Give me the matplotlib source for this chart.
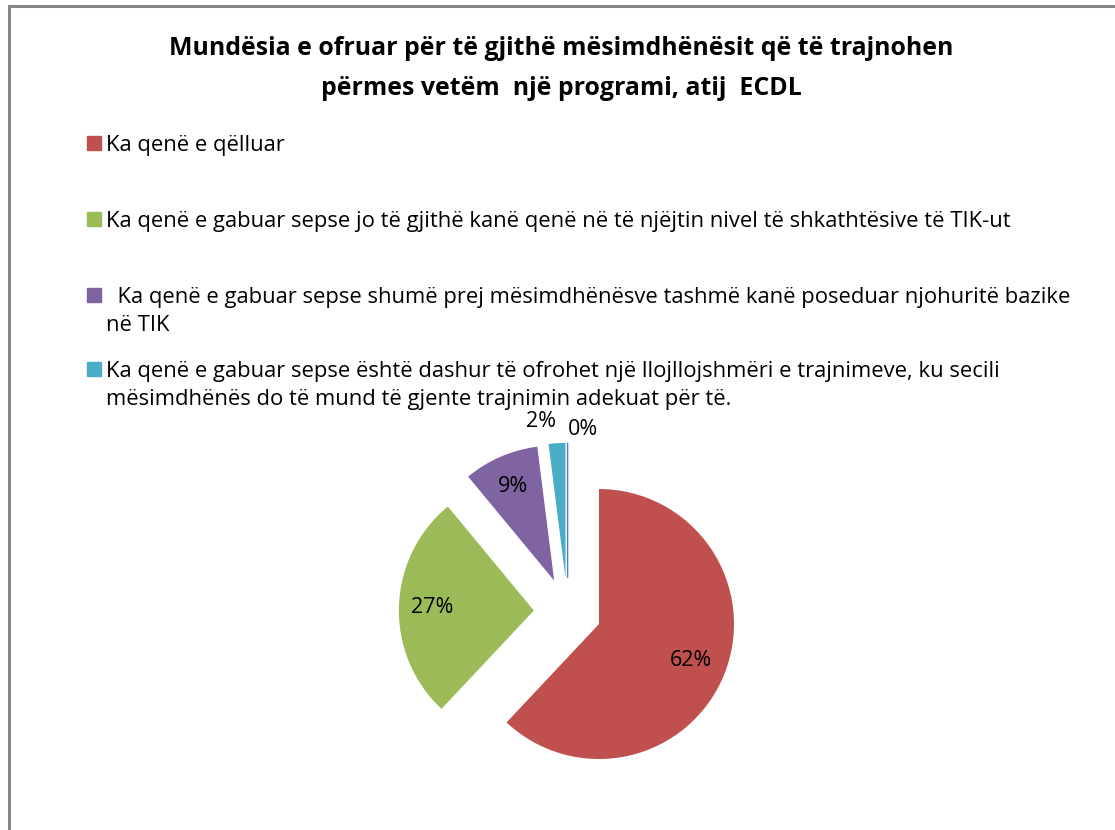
import matplotlib.pyplot as plt
from matplotlib.lines import Line2D
from matplotlib.patches import Rectangle
import numpy as np

plt.rcParams['font.family'] = ['Open Sans', 'DejaVu Sans']

W, H = 1115, 830

title = ("Mundësia e ofruar për të gjithë mësimdhënësit që të trajnohen\n"
         "përmes vetëm  një programi, atij  ECDL")
categories = [
    "Ka qenë e qëlluar",
    "Ka qenë e gabuar sepse jo të gjithë kanë qenë në të njëjtin nivel të shkathtësive të TIK-ut",
    "  Ka qenë e gabuar sepse shumë prej mësimdhënësve tashmë kanë poseduar njohuritë bazike\nnë TIK",
    "Ka qenë e gabuar sepse është dashur të ofrohet një llojllojshmëri e trajnimeve, ku secili\n"
    "mësimdhënës do të mund të gjente trajnimin adekuat për të.",
]
values = [62, 27, 9, 2, 0]
colors = ['#C0504D', '#9BBB59', '#8064A2', '#4BACC6', '#4F81BD']


def px(x, y):
    return x / W, 1 - y / H


fig = plt.figure(figsize=(W / 100, H / 100), dpi=100)

# frame (top and left edges only, the rest is cropped off)
fig.add_artist(Line2D([px(9, 0)[0], 1], [px(0, 6)[1]] * 2, color='#868686', lw=2.2))
fig.add_artist(Line2D([px(9, 0)[0]] * 2, [px(0, 6)[1], 0], color='#868686', lw=2.2))

for i, line in enumerate(title.split('\n')):
    fig.text(*px(561, 55 + 40 * i), line, ha='center', va='baseline',
             fontsize=17.9, fontweight='bold')

# legend drawn by hand
leg_base = [151, 227, 303, 377]
for lab, col, yb in zip(categories, colors, leg_base):
    fig.add_artist(Rectangle(px(87, yb - 1), 14 / W, 14 / H, color=col,
                             transform=fig.transFigure))
    for j, line in enumerate(lab.split('\n')):
        fig.text(*px(106, yb + 28 * j), line, ha='left', va='baseline', fontsize=15.8)

# pie: centre (567.6, 611.6) px, radius 135 px
r_px = 135
ext = 1.6
side = 2 * ext * r_px
ax = fig.add_axes([(567.6 - side / 2) / W, (H - 611.6 - side / 2) / H, side / W, side / H])
wedges, _ = ax.pie(values, colors=colors, startangle=90, counterclock=False,
                   explode=[0.25] * len(values), radius=1,
                   wedgeprops=dict(linewidth=0))
wedges[-1].set_edgecolor(colors[-1])
wedges[-1].set_linewidth(1)
ax.set_xlim(-ext, ext)
ax.set_ylim(-ext, ext)
ax.axis('off')

pct_dist = [0.73, 0.75, 0.76, 1.16, 1.10]
pct_ha = ['center', 'center', 'center', 'right', 'left']
for w, v, d, ha in zip(wedges, values, pct_dist, pct_ha):
    ang = np.deg2rad((w.theta1 + w.theta2) / 2)
    cx, cy = w.center
    ax.text(cx + d * w.r * np.cos(ang), cy + d * w.r * np.sin(ang), f"{v:.0f}%",
            ha=ha, va='center', fontsize=15.5)

fig.savefig('out.png', dpi=100)
